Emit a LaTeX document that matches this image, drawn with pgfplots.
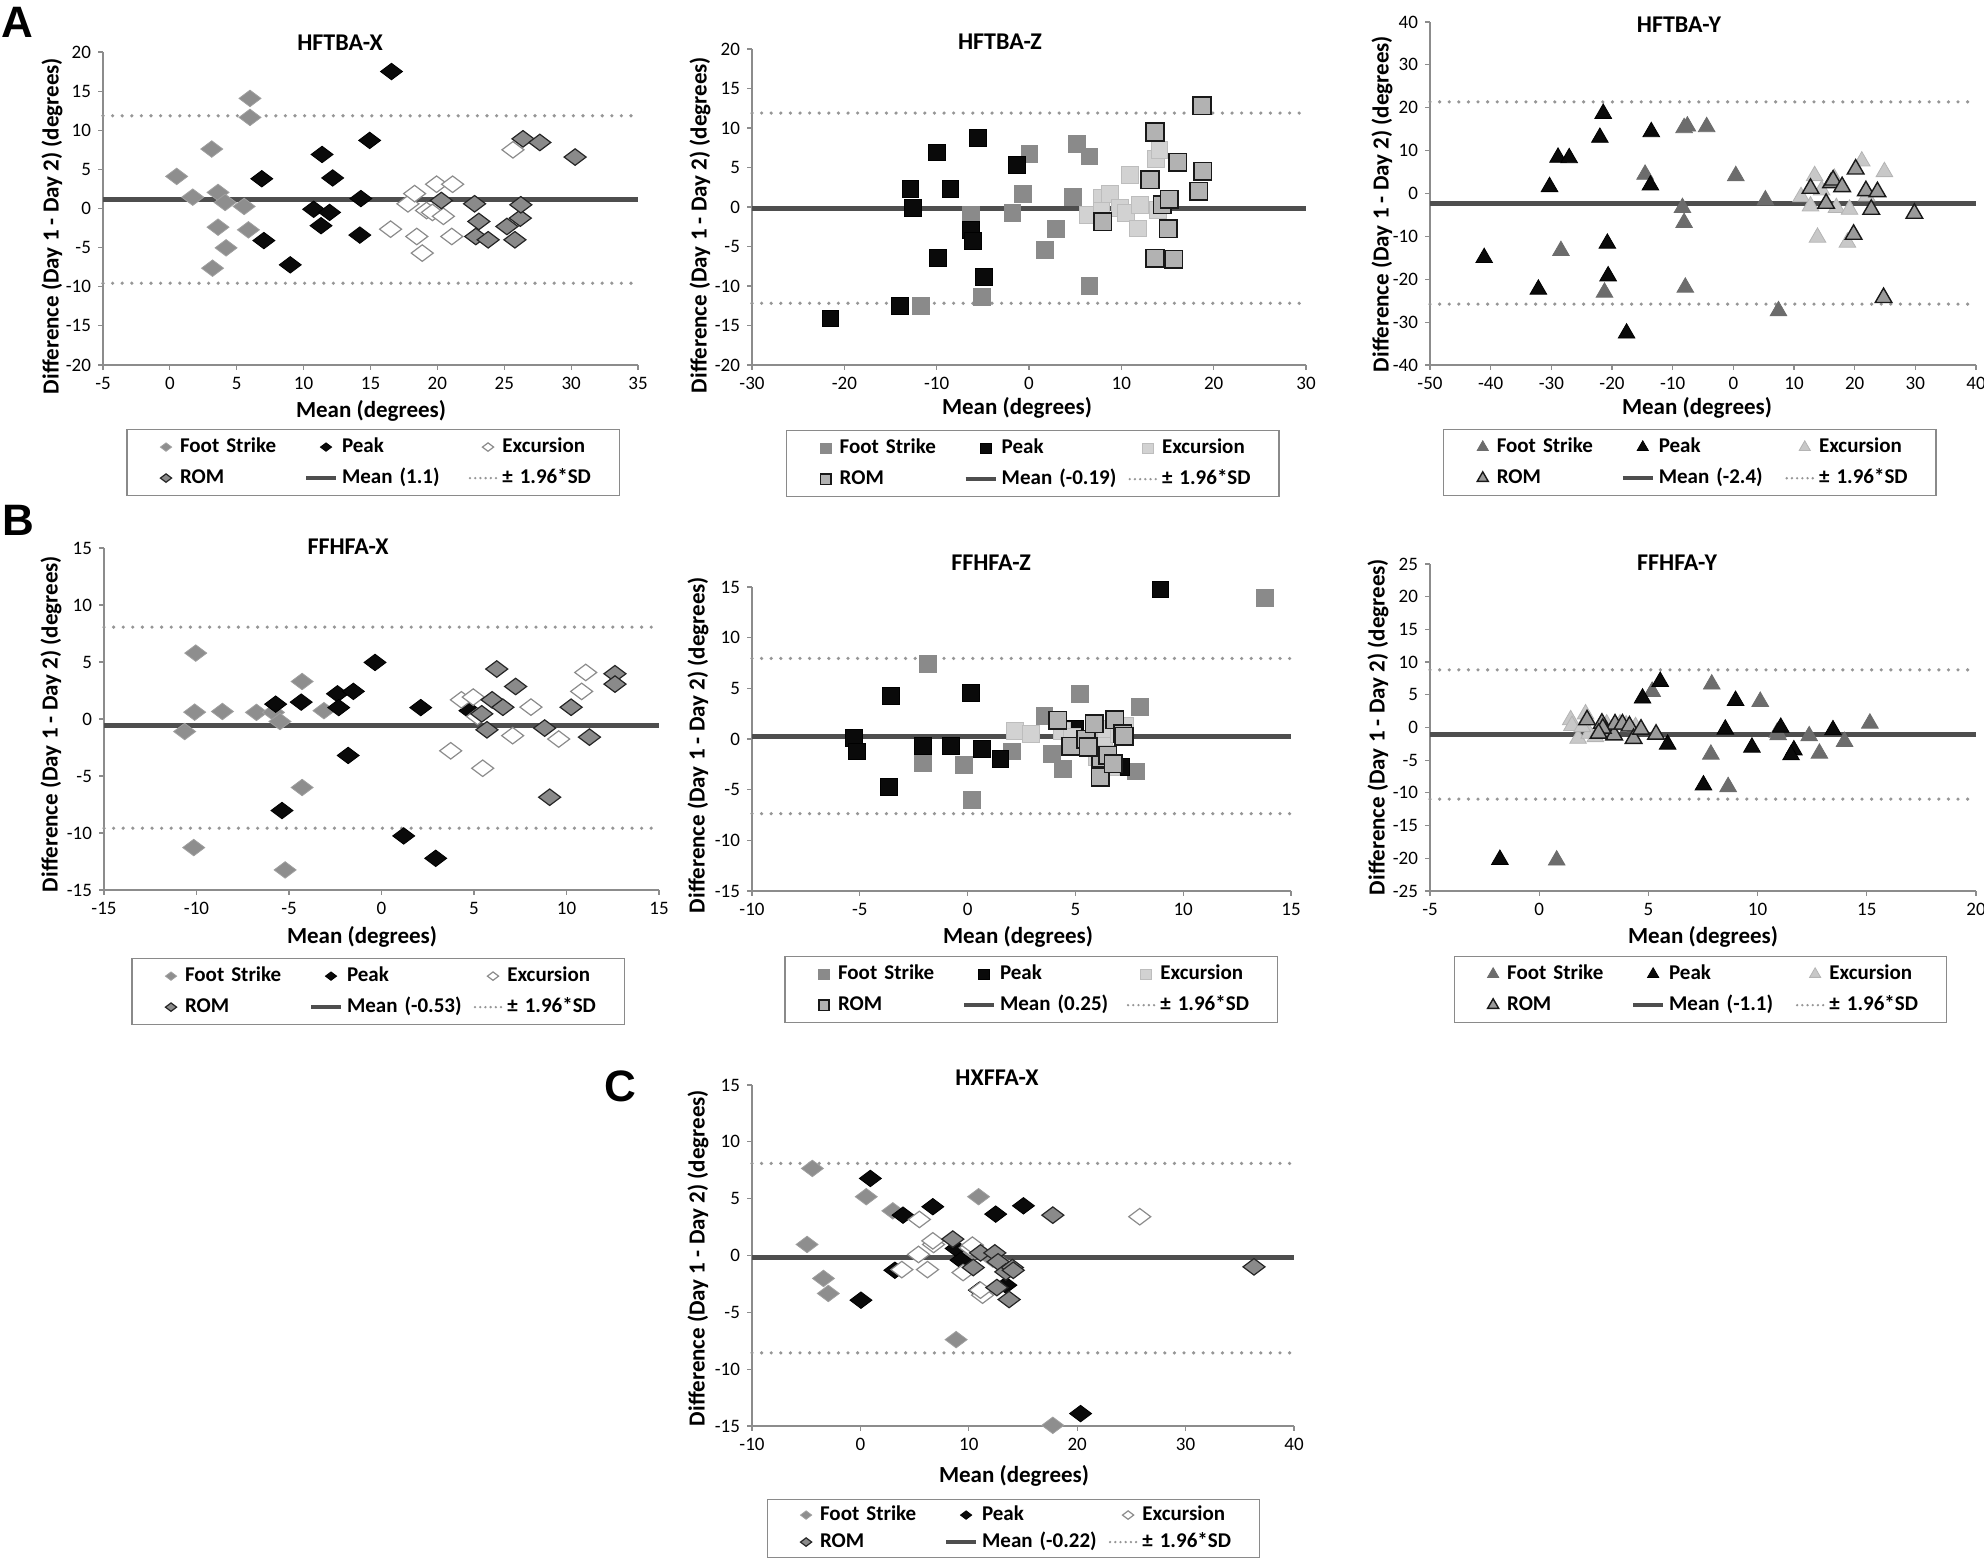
\documentclass[border=0pt]{standalone}
\usepackage{fontspec}
\setmainfont{Carlito}
\newfontfamily\letterfont{Liberation Sans}
\usepackage{pgfplots}
\pgfplotsset{compat=1.18}

\definecolor{axgray}{HTML}{8C8C8C}
\definecolor{leggray}{HTML}{8A8A8A}
\definecolor{meangray}{HTML}{4E4E4E}
\definecolor{sdgray}{HTML}{969696}
\definecolor{cdfs}{HTML}{8E8E8E}
\definecolor{cpk}{HTML}{0A0A0A}
\definecolor{cdrom}{HTML}{8A8A8A}
\definecolor{csfs}{HTML}{8A8A8A}
\definecolor{csex}{HTML}{D2D2D2}
\definecolor{csrom}{HTML}{B2B2B2}
\definecolor{ctfs}{HTML}{6C6C6C}
\definecolor{ctex}{HTML}{C8C8C8}
\definecolor{ctrom}{HTML}{9A9A9A}

\newcommand{\tfont}{\bfseries\fontsize{12}{14}\selectfont}
\newcommand{\lfont}{\bfseries\fontsize{11.5}{13}\selectfont}
\newcommand{\legfont}{\bfseries\fontsize{10.5}{12}\selectfont}
\newcommand{\legtxt}[1]{\mbox{\legfont #1}}

\pgfplotsset{
  legmark/.style={legend image code/.code={\path[draw=none,fill=none] (0pt,-3pt) rectangle (22pt,3pt); \draw[##1, mark size=#1] plot coordinates {(17pt,0pt)};}},
  lineleg/.style={legend image code/.code={\path[draw=none,fill=none] (0pt,-3pt) rectangle (22pt,3pt); \draw[##1] (7pt,0pt) -- (22pt,0pt);}},
  sdleg/.style={legend image code/.code={\path[draw=none,fill=none] (0pt,-3pt) rectangle (22pt,3pt); \draw[##1, dash pattern=on 0pt off 2.6pt] (8pt,0pt) -- (21.5pt,0pt);}},
  meanl/.style={color=meangray, line width=2.5pt},
  sdl/.style={color=sdgray, line width=1.8pt, line cap=round, dash pattern=on 0pt off 4.8pt},
  % diamonds
  dFS/.style={only marks, mark=diamond*, mark size=5.5pt, mark options={rotate=90, fill=cdfs, draw=cdfs!85!white, line width=0.4pt}, legmark=2.8pt},
  dPK/.style={only marks, mark=diamond*, mark size=5.5pt, mark options={rotate=90, fill=cpk, draw=black, line width=0.4pt}, legmark=2.8pt},
  dEX/.style={only marks, mark=diamond*, mark size=5.5pt, mark options={rotate=90, fill=white, draw=axgray, line width=0.6pt}, legmark=2.8pt},
  dRM/.style={only marks, mark=diamond*, mark size=5.5pt, mark options={rotate=90, fill=cdrom, draw=black!85, line width=0.6pt}, legmark=2.8pt},
  % squares
  sFS/.style={only marks, mark=square*, mark size=4.2pt, mark options={fill=csfs, draw=csfs, line width=0.4pt}, legmark=2.6pt},
  sPK/.style={only marks, mark=square*, mark size=4.2pt, mark options={fill=cpk, draw=black, line width=0.4pt}, legmark=2.6pt},
  sEX/.style={only marks, mark=square*, mark size=4.2pt, mark options={fill=csex, draw=csex!90!black, line width=0.4pt}, legmark=2.6pt},
  sRM/.style={only marks, mark=square*, mark size=4.4pt, mark options={fill=csrom, draw=black!90, line width=0.8pt}, legmark=2.6pt},
  % triangles
  tFS/.style={only marks, mark=triangle*, mark size=4.8pt, mark options={fill=ctfs, draw=ctfs, line width=0.4pt}, legmark=3.2pt},
  tPK/.style={only marks, mark=triangle*, mark size=4.8pt, mark options={fill=cpk, draw=black, line width=0.4pt}, legmark=3.2pt},
  tEX/.style={only marks, mark=triangle*, mark size=4.8pt, mark options={fill=ctex, draw=ctex!90!black, line width=0.4pt}, legmark=3.2pt},
  tRM/.style={only marks, mark=triangle*, mark size=4.8pt, mark options={fill=ctrom, draw=black!90, line width=0.7pt}, legmark=3.2pt},
  ba/.style={
    scale only axis,
    anchor=south west,
    axis x line=bottom, axis y line=left,
    axis line style={-, draw=axgray, line width=0.7pt},
    tick align=outside, major tick length=2.5pt,
    tick style={draw=axgray, line width=0.6pt},
    ticklabel style={font=\fontsize{9.5}{10}\selectfont},
    /pgf/number format/assume math mode=true,
    clip=false,
    legend columns=3,
    legend cell align=left,
    legend style={draw=leggray, line width=0.6pt, fill=white, inner xsep=2.5pt, inner ysep=1pt,
      font=\legfont, anchor=north,
      /tikz/column sep=0pt, /tikz/row sep=0pt,
      nodes={font=\legfont, inner xsep=2pt, inner ysep=2.5pt, text width=54pt, text height=8pt, text depth=2.5pt, anchor=west}},
  },
}

\begin{document}
\begin{tikzpicture}
\useasboundingbox (0,0) rectangle (992pt,780.5pt);

% ---------------- A1 HFTBA-X ----------------
\begin{axis}[ba, at={(51.5pt,598pt)}, width=267.5pt, height=156.5pt,
  xmin=-5, xmax=35, xtick={-5,0,...,35}, ymin=-20, ymax=20, ytick={-20,-15,...,20},
  legend style={at={(0.505,-0.2045)}}]
\addplot[sdl, forget plot] coordinates {(-5,11.85) (35,11.85)};
\addplot[sdl, forget plot] coordinates {(-5,-9.55) (35,-9.55)};
\addplot[meanl, forget plot] coordinates {(-5,1.1) (35,1.1)};
\addplot[dFS] coordinates {(0.51,4.1) (1.71,1.45) (3.13,7.6) (3.6,2.05) (3.6,-2.39) (4.13,0.77) (4.2,-5.03) (3.19,-7.63) (5.55,0.26) (5.87,-2.73) (5.99,14.07) (5.99,11.64)};
\addlegendentry{\legtxt{Foot Strike}}
\addplot[dPK] coordinates {(6.87,3.8) (7.03,-4.1) (9.0,-7.2) (10.75,-0.1) (11.38,6.9) (11.3,-2.2) (11.94,-0.5) (12.17,3.9) (14.28,1.27) (14.2,-3.4) (14.94,8.7) (16.57,17.5)};
\addlegendentry{\legtxt{Peak}}
\addplot[dEX] coordinates {(16.5,-2.64) (17.8,0.6) (18.3,1.9) (18.46,-3.58) (18.87,-5.7) (19.19,-0.26) (19.63,-0.5) (19.94,3.1) (20.45,-1.0) (21.14,3.1) (21.08,-3.58) (25.65,7.5)};
\addlegendentry{\legtxt{Excursion}}
\addplot[dRM] coordinates {(20.3,1.02) (22.78,0.6) (23.1,-1.66) (22.87,-3.58) (23.8,-4.0) (25.2,-2.3) (25.8,-4.0) (26.2,-1.23) (26.24,0.47) (26.4,8.9) (27.66,8.44) (30.3,6.57)};
\addlegendentry{\legtxt{ROM}}
\addlegendimage{meanl, line width=2pt, lineleg}
\addlegendentry{\legtxt{Mean (1.1)}}
\addlegendimage{sdl, line width=1.3pt, sdleg}
\addlegendentry{\legtxt{± 1.96*SD}}
\end{axis}

% ---------------- A2 HFTBA-Z ----------------
\begin{axis}[ba, at={(376pt,598pt)}, width=277pt, height=158pt,
  xmin=-30, xmax=30, xtick={-30,-20,...,30}, ymin=-20, ymax=20, ytick={-20,-15,...,20},
  legend style={at={(0.507,-0.206)}}]
\addplot[sdl, forget plot] coordinates {(-30,11.89) (30,11.89)};
\addplot[sdl, forget plot] coordinates {(-30,-12.19) (30,-12.19)};
\addplot[meanl, forget plot] coordinates {(-30,-0.19) (30,-0.19)};
\addplot[sFS] coordinates {(-11.75,-12.52) (-6.27,-0.99) (-5.09,-11.34) (-1.8,-0.7) (-0.7,1.63) (0.04,6.74) (1.71,-5.43) (2.9,-2.8) (4.78,1.25) (5.22,8.0) (6.54,6.4) (6.54,-9.95)};
\addlegendentry{\legtxt{Foot Strike}}
\addplot[sPK] coordinates {(-21.5,-14.1) (-13.95,-12.48) (-12.85,2.3) (-12.54,-0.15) (-10.0,6.9) (-9.91,-6.48) (-8.51,2.26) (-6.32,-2.9) (-6.1,-4.25) (-5.53,8.72) (-4.87,-8.8) (-1.27,5.34)};
\addlegendentry{\legtxt{Peak}}
\addplot[sEX] coordinates {(6.32,-1.0) (7.85,1.12) (7.85,-0.44) (8.73,1.63) (9.82,-0.15) (10.5,-0.78) (10.9,4.07) (11.8,-2.7) (12.0,0.27) (13.77,6.06) (14.12,7.25) (14.0,-0.36)};
\addlegendentry{\legtxt{Excursion}}
\addplot[sRM] coordinates {(7.98,-1.84) (13.1,3.44) (13.64,9.48) (13.64,-6.48) (14.43,0.27) (15.18,0.99) (15.09,-2.77) (15.66,-6.6) (16.1,5.64) (18.38,1.96) (18.82,4.5) (18.73,12.82)};
\addlegendentry{\legtxt{ROM}}
\addlegendimage{meanl, line width=2pt, lineleg}
\addlegendentry{\legtxt{Mean (-0.19)}}
\addlegendimage{sdl, line width=1.3pt, sdleg}
\addlegendentry{\legtxt{± 1.96*SD}}
\end{axis}

% ---------------- A3 HFTBA-Y ----------------
\begin{axis}[ba, at={(715pt,598pt)}, width=273pt, height=171.5pt,
  xmin=-50, xmax=40, xtick={-50,-40,...,40}, ymin=-40, ymax=40, ytick={-40,-30,...,40},
  legend style={at={(0.476,-0.187)}}]
\addplot[sdl, forget plot] coordinates {(-50,21.36) (40,21.36)};
\addplot[sdl, forget plot] coordinates {(-50,-25.8) (40,-25.8)};
\addplot[meanl, forget plot] coordinates {(-50,-2.4) (40,-2.4)};
\addplot[tFS] coordinates {(-28.42,-13.36) (-21.24,-23.07) (-14.55,4.43) (-8.39,-3.34) (-8.12,-6.83) (-8.12,15.3) (-7.58,15.69) (-7.92,-21.9) (-4.4,15.53) (0.4,4.12) (5.28,-1.55) (7.44,-27.4)};
\addlegendentry{\legtxt{Foot Strike}}
\addplot[tPK] coordinates {(-41.07,-15.0) (-32.14,-22.37) (-30.3,1.55) (-28.9,8.4) (-27.06,8.3) (-22.0,13.05) (-21.45,18.64) (-20.77,-11.65) (-20.64,-19.26) (-17.6,-32.6) (-13.53,14.37) (-13.67,1.94)};
\addlegendentry{\legtxt{Peak}}
\addplot[tEX] coordinates {(11.16,-0.78) (12.72,-2.95) (13.4,4.12) (13.87,-10.25) (14.55,0.78) (16.64,3.5) (16.98,-3.34) (19.15,-3.73) (18.8,-11.4) (21.17,7.53) (21.98,-0.62) (24.9,5.05)};
\addlegendentry{\legtxt{Excursion}}
\addplot[tRM] coordinates {(12.72,1.17) (15.29,-2.33) (16.1,2.48) (16.44,3.1) (17.93,1.55) (19.82,-9.55) (20.16,5.67) (21.85,0.62) (22.73,-3.73) (23.75,0.39) (24.76,-24.3) (29.84,-4.66)};
\addlegendentry{\legtxt{ROM}}
\addlegendimage{meanl, line width=2pt, lineleg}
\addlegendentry{\legtxt{Mean (-2.4)}}
\addlegendimage{sdl, line width=1.3pt, sdleg}
\addlegendentry{\legtxt{± 1.96*SD}}
\end{axis}

% ---------------- B1 FFHFA-X ----------------
\begin{axis}[ba, at={(52pt,335.5pt)}, width=277.5pt, height=171pt,
  xmin=-15, xmax=15, xtick={-15,-10,...,15}, ymin=-15, ymax=15, ytick={-15,-10,...,15},
  legend style={at={(0.494,-0.199)}}]
\addplot[sdl, forget plot] coordinates {(-15,8.06) (15,8.06)};
\addplot[sdl, forget plot] coordinates {(-15,-9.58) (15,-9.58)};
\addplot[meanl, forget plot] coordinates {(-15,-0.53) (15,-0.53)};
\addplot[dFS] coordinates {(-10.64,-1.1) (-10.1,0.6) (-10.04,5.78) (-10.15,-11.28) (-8.6,0.66) (-6.76,0.58) (-5.84,0.58) (-5.49,-0.22) (-5.21,-13.24) (-4.29,3.29) (-4.29,-6.01) (-3.11,0.73)};
\addlegendentry{\legtxt{Foot Strike}}
\addplot[dPK] coordinates {(-5.72,1.3) (-5.38,-8.03) (-4.34,1.48) (-2.38,2.21) (-2.31,1.0) (-1.52,2.42) (-1.8,-3.2) (-0.35,4.96) (1.2,-10.26) (2.12,1.0) (2.93,-12.22) (4.78,0.73)};
\addlegendentry{\legtxt{Peak}}
\addplot[dEX] coordinates {(3.74,-2.79) (4.32,1.68) (4.96,1.92) (5.19,0.22) (5.47,-4.32) (7.09,-1.46) (8.08,1.04) (9.58,-1.76) (10.82,2.42) (11.04,4.08)};
\addlegendentry{\legtxt{Excursion}}
\addplot[dRM] coordinates {(5.42,0.45) (5.7,-0.95) (5.98,1.68) (6.23,4.38) (6.56,1.03) (7.25,2.85) (8.82,-0.8) (9.09,-6.86) (10.25,1.03) (11.24,-1.59) (12.62,3.97) (12.62,3.06)};
\addlegendentry{\legtxt{ROM}}
\addlegendimage{meanl, line width=2pt, lineleg}
\addlegendentry{\legtxt{Mean (-0.53)}}
\addlegendimage{sdl, line width=1.3pt, sdleg}
\addlegendentry{\legtxt{± 1.96*SD}}
\end{axis}

% ---------------- B2 FFHFA-Z ----------------
\begin{axis}[ba, at={(376pt,335pt)}, width=269.5pt, height=152pt,
  xmin=-10, xmax=15, xtick={-10,-5,...,15}, ymin=-15, ymax=15, ytick={-15,-10,...,15},
  legend style={at={(0.518,-0.214)}}]
\addplot[sdl, forget plot] coordinates {(-10,7.95) (15,7.95)};
\addplot[sdl, forget plot] coordinates {(-10,-7.37) (15,-7.37)};
\addplot[meanl, forget plot] coordinates {(-10,0.25) (15,0.25)};
\addplot[sFS] coordinates {(-1.84,7.43) (-2.08,-2.34) (-0.19,-2.53) (0.19,-6.05) (2.05,-1.22) (3.56,2.24) (3.92,-1.45) (4.41,-2.93) (5.21,4.47) (7.82,-3.19) (7.99,3.16) (13.79,13.91)};
\addlegendentry{\legtxt{Foot Strike}}
\addplot[sPK] coordinates {(-5.27,0.13) (-5.15,-1.22) (-3.56,4.24) (-3.64,-4.74) (-2.08,-0.69) (-0.76,-0.69) (0.15,4.57) (0.66,-0.95) (1.52,-2.0) (4.98,1.02) (7.1,-2.76) (8.94,14.77)};
\addlegendentry{\legtxt{Peak}}
\addplot[sEX] coordinates {(2.18,0.79) (2.94,0.53) (4.36,0.76) (4.83,0.2) (5.36,-0.79) (6.34,0.2) (6.4,1.02) (6.0,-1.78) (6.53,-1.45) (6.67,-2.76) (7.29,1.35) (7.0,0.53)};
\addlegendentry{\legtxt{Excursion}}
\addplot[sRM] coordinates {(4.17,1.84) (4.79,-0.72) (5.49,-0.03) (5.87,1.51) (6.19,-1.84) (6.15,-3.75) (6.5,-1.61) (6.76,-2.43) (6.82,1.91) (7.2,0.53) (7.25,0.26) (5.6,-0.79)};
\addlegendentry{\legtxt{ROM}}
\addlegendimage{meanl, line width=2pt, lineleg}
\addlegendentry{\legtxt{Mean (0.25)}}
\addlegendimage{sdl, line width=1.3pt, sdleg}
\addlegendentry{\legtxt{± 1.96*SD}}
\end{axis}

% ---------------- B3 FFHFA-Y ----------------
\begin{axis}[ba, at={(715pt,335pt)}, width=273pt, height=163.5pt,
  xmin=-5, xmax=20, xtick={-5,0,...,20}, ymin=-25, ymax=25, ytick={-25,-20,...,25},
  legend style={at={(0.495,-0.199)}}]
\addplot[sdl, forget plot] coordinates {(-5,8.81) (20,8.81)};
\addplot[sdl, forget plot] coordinates {(-5,-10.95) (20,-10.95)};
\addplot[meanl, forget plot] coordinates {(-5,-1.1) (20,-1.1)};
\addplot[tFS] coordinates {(0.8,-20.3) (5.17,5.49) (7.86,-4.11) (7.9,6.61) (8.65,-9.07) (10.12,3.96) (10.94,-1.15) (10.9,-0.74) (12.36,-1.3) (12.83,-3.96) (13.98,-2.17) (15.14,0.64)};
\addlegendentry{\legtxt{Foot Strike}}
\addplot[tPK] coordinates {(-1.8,-20.2) (4.73,4.47) (5.54,7.02) (5.88,-2.58) (7.52,-8.81) (8.52,-0.28) (8.99,4.11) (9.74,-3.04) (11.06,0.0) (11.66,-3.45) (11.53,-4.21) (13.45,-0.38)};
\addlegendentry{\legtxt{Peak}}
\addplot[tEX] coordinates {(1.44,1.15) (1.5,0.28) (1.78,-1.69) (2.12,2.05) (2.29,-0.92) (2.57,-1.43) (3.09,0.51) (3.7,0.51) (3.98,0.36) (4.41,0.1) (1.97,0.1) (2.82,-0.4)};
\addlegendentry{\legtxt{Excursion}}
\addplot[tRM] coordinates {(2.19,1.15) (2.87,0.64) (3.04,-0.64) (3.43,-1.15) (3.47,0.51) (3.81,0.51) (4.13,0.2) (4.32,-1.69) (4.66,-0.28) (5.35,-1.05) (2.91,-0.13) (2.72,-0.9)};
\addlegendentry{\legtxt{ROM}}
\addlegendimage{meanl, line width=2pt, lineleg}
\addlegendentry{\legtxt{Mean (-1.1)}}
\addlegendimage{sdl, line width=1.3pt, sdleg}
\addlegendentry{\legtxt{± 1.96*SD}}
\end{axis}

% ---------------- C HXFFA-X ----------------
\begin{axis}[ba, at={(376pt,67.5pt)}, width=271pt, height=170.5pt,
  xmin=-10, xmax=40, xtick={-10,0,...,40}, ymin=-15, ymax=15, ytick={-15,-10,...,15},
  legend style={at={(0.482,-0.214)}, nodes={text height=7.5pt, text depth=2pt, inner ysep=2pt}}]
\addplot[sdl, forget plot] coordinates {(-10,8.1) (40,8.1)};
\addplot[sdl, forget plot] coordinates {(-10,-8.57) (40,-8.57)};
\addplot[meanl, forget plot] coordinates {(-10,-0.22) (40,-0.22)};
\addplot[dFS] coordinates {(-4.92,0.97) (-4.43,7.66) (-3.41,-2.02) (-2.96,-3.34) (0.54,5.17) (2.99,3.93) (8.83,-7.4) (9.77,-0.12) (10.9,5.17) (12.21,-0.32) (12.89,-0.64) (17.75,-14.94)};
\addlegendentry{\legtxt{Foot Strike}}
\addplot[dPK] coordinates {(0.05,-3.93) (0.92,6.78) (3.18,-1.3) (3.93,3.55) (6.68,4.29) (8.83,0.62) (9.28,-0.41) (10.97,-3.05) (12.48,3.64) (13.42,-2.61) (15.04,4.37) (20.31,-13.91)};
\addlegendentry{\legtxt{Peak}}
\addplot[dEX] coordinates {(3.82,-1.24) (5.44,3.17) (5.36,0.09) (6.19,-1.24) (6.75,0.97) (6.68,1.29) (9.47,-1.5) (10.14,0.68) (10.33,0.91) (11.27,-3.49) (11.08,-3.05) (25.77,3.41)};
\addlegendentry{\legtxt{Excursion}}
\addplot[dRM] coordinates {(8.52,1.44) (10.41,-1.06) (11.08,0.23) (12.4,0.23) (12.7,-0.56) (12.59,-2.82) (13.42,-1.44) (13.72,-3.87) (14.02,-1.06) (14.1,-1.3) (17.75,3.55) (36.31,-1.0)};
\addlegendentry{\legtxt{ROM}}
\addlegendimage{meanl, line width=2pt, lineleg}
\addlegendentry{\legtxt{Mean (-0.22)}}
\addlegendimage{sdl, line width=1.3pt, sdleg}
\addlegendentry{\legtxt{± 1.96*SD}}
\end{axis}

% ---------------- titles and labels ----------------
\node[font=\tfont] at (170pt,759pt) {HFTBA-X};
\node[font=\tfont] at (500pt,759.5pt) {HFTBA-Z};
\node[font=\tfont] at (839.5pt,768pt) {HFTBA-Y};
\node[font=\tfont] at (174pt,507pt) {FFHFA-X};
\node[font=\tfont] at (495.5pt,499pt) {FFHFA-Z};
\node[font=\tfont] at (838.5pt,499pt) {FFHFA-Y};
\node[font=\tfont] at (498.5pt,241.5pt) {HXFFA-X};

\node[font=\lfont] at (185.5pt,575pt) {Mean (degrees)};
\node[font=\lfont] at (508.5pt,576.5pt) {Mean (degrees)};
\node[font=\lfont] at (848.5pt,576.5pt) {Mean (degrees)};
\node[font=\lfont] at (181pt,312pt) {Mean (degrees)};
\node[font=\lfont] at (509pt,312pt) {Mean (degrees)};
\node[font=\lfont] at (851.5pt,312pt) {Mean (degrees)};
\node[font=\lfont] at (507pt,42.5pt) {Mean (degrees)};

\node[font=\lfont, rotate=90] at (26pt,667.5pt) {Difference (Day 1 - Day 2) (degrees)};
\node[font=\lfont, rotate=90] at (350pt,668pt) {Difference (Day 1 - Day 2) (degrees)};
\node[font=\lfont, rotate=90] at (691pt,678.5pt) {Difference (Day 1 - Day 2) (degrees)};
\node[font=\lfont, rotate=90] at (25.5pt,418.5pt) {Difference (Day 1 - Day 2) (degrees)};
\node[font=\lfont, rotate=90] at (349pt,408pt) {Difference (Day 1 - Day 2) (degrees)};
\node[font=\lfont, rotate=90] at (689pt,417pt) {Difference (Day 1 - Day 2) (degrees)};
\node[font=\lfont, rotate=90] at (349pt,151.5pt) {Difference (Day 1 - Day 2) (degrees)};

\node[font=\letterfont\bfseries\fontsize{22}{24}\selectfont] at (8.5pt,769.5pt) {A};
\node[font=\letterfont\bfseries\fontsize{22}{24}\selectfont] at (9pt,520.5pt) {B};
\node[font=\letterfont\bfseries\fontsize{22}{24}\selectfont] at (310pt,237.5pt) {C};
\end{tikzpicture}
\end{document}
